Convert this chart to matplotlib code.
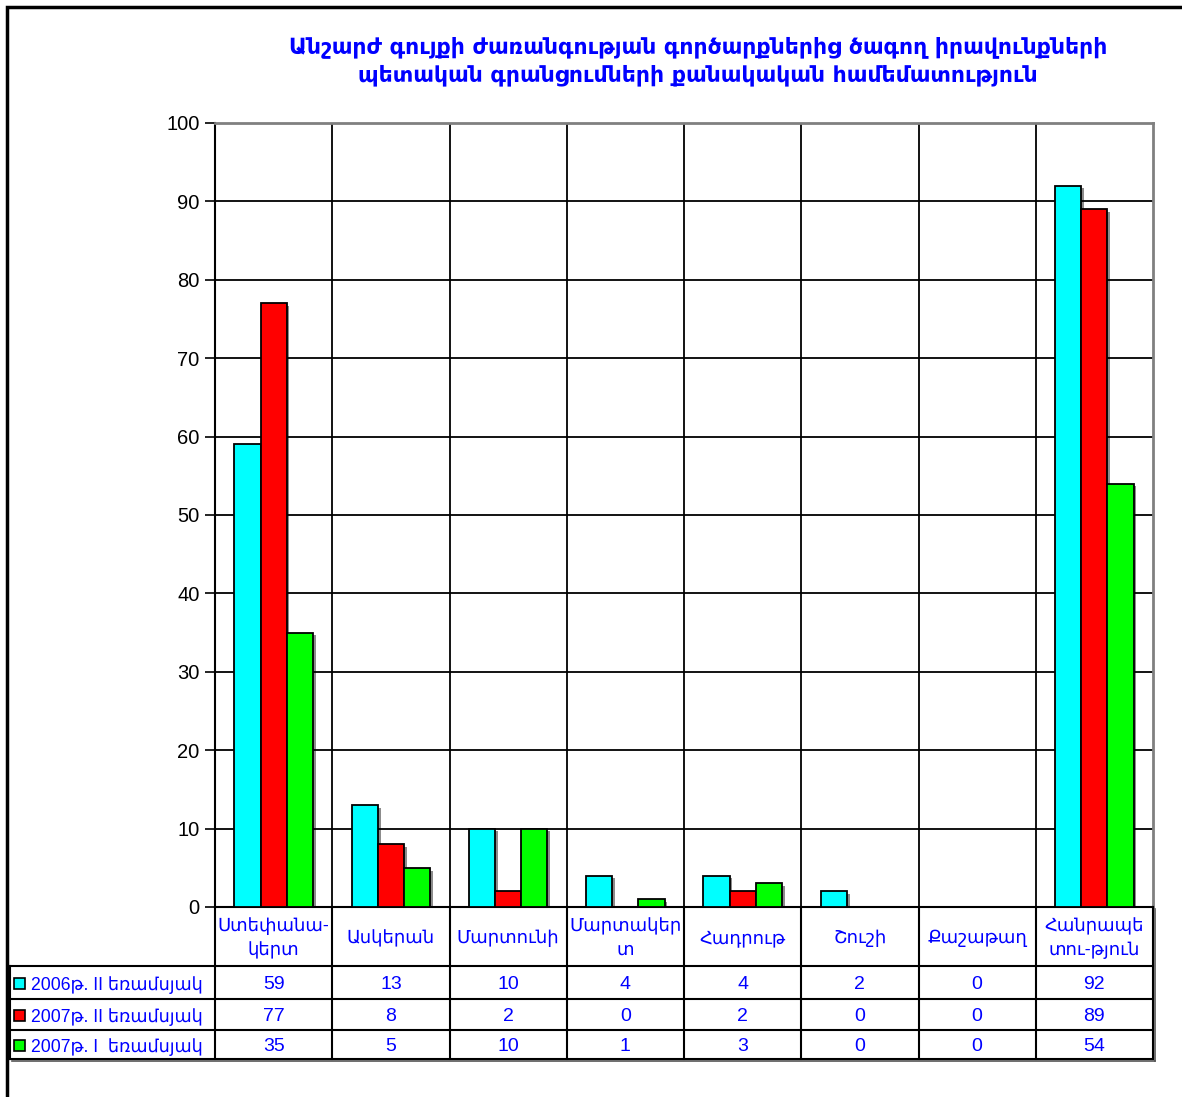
import numpy as np
import matplotlib
matplotlib.use("Agg")
import matplotlib.pyplot as plt
import matplotlib.patheffects as pe

plt.rcParams["font.family"] = ["Liberation Sans", "DejaVu Sans"]

TITLE = ("Անշարժ գույքի ժառանգության գործարքներից ծագող իրավունքների\n"
         "պետական գրանցումների քանակական համեմատություն")
categories = ["Ստեփանա-\nկերտ", "Ասկերան", "Մարտունի", "Մարտակեր\nտ",
              "Հադրութ", "Շուշի", "Քաշաթաղ", "Հանրապե\nտու-թյուն"]
series_names = ["2006թ. II եռամսյակ", "2007թ. II եռամսյակ", "2007թ. I  եռամսյակ"]
q2_2006 = [59, 13, 10, 4, 4, 2, 0, 92]
q2_2007 = [77, 8, 2, 0, 2, 0, 0, 89]
q1_2007 = [35, 5, 10, 1, 3, 0, 0, 54]
series = [q2_2006, q2_2007, q1_2007]
colors = ["#00ffff", "#ff0000", "#00ff00"]
yticks = list(range(0, 101, 10))

BLUE = "#0000ff"
W, H = 1182, 1097
# plot area in pixels
PL, PR, PT, PB = 215, 1153, 123, 907
# table rows in pixels
ROWS = [907, 966, 999, 1030, 1059]
TL = 10

fig = plt.figure(figsize=(W / 100, H / 100), dpi=100)
fig.patch.set_facecolor("white")

ax = fig.add_axes([PL / W, 1 - PB / H, (PR - PL) / W, (PB - PT) / H])
n = len(categories)
ax.set_xlim(0, n)
ax.set_ylim(0, 100)
ax.set_yticks(yticks)
ax.set_xticks([])
ax.tick_params(axis="y", length=7, width=1.2, labelsize=14.5, pad=4)
for y in yticks[1:-1]:
    ax.axhline(y, color="black", lw=1.3, zorder=1)
for i in range(1, n):
    ax.axvline(i, color="black", lw=1.3, zorder=1)
for side in ["top", "right"]:
    ax.spines[side].set_color("#808080")
    ax.spines[side].set_linewidth(2)
ax.spines["left"].set_linewidth(1.5)
ax.spines["bottom"].set_linewidth(1.5)

bw = 0.223
x = np.arange(n) + 0.5
shadow = [pe.SimplePatchShadow(offset=(2, -2), shadow_rgbFace="black", alpha=0.45), pe.Normal()]
for k, (vals, c) in enumerate(zip(series, colors)):
    bars = ax.bar(x + (k - 1) * bw, vals, bw, color=c, edgecolor="black",
                  lw=1.3, zorder=3)
    for b, v in zip(bars, vals):
        if v == 0:
            b.set_visible(False)
        else:
            b.set_path_effects(shadow)

# overlay in pixel coordinates for the frame, title and data table
ov = fig.add_axes([0, 0, 1, 1])
ov.set_xlim(0, W)
ov.set_ylim(H, 0)
ov.axis("off")
ov.patch.set_alpha(0)

ov.plot([7, 7, W], [H, 7, 7], color="black", lw=2.5, solid_joinstyle="miter")
ov.text(698, 61, TITLE, ha="center", va="center", color=BLUE, fontsize=15.8,
        fontweight="bold", linespacing=1.4, family=["DejaVu Sans"])

colw = (PR - PL) / n
edges = [PL + i * colw for i in range(n + 1)]
for i, e in enumerate(edges):
    ov.plot([e, e], [ROWS[0], ROWS[-1]], color="black", lw=1.5)
for r in ROWS[1:]:
    ov.plot([TL, PR], [r, r], color="black", lw=1.5)
ov.plot([TL, TL], [ROWS[1], ROWS[-1]], color="black", lw=1.5)
ov.plot([PR + 2, PR + 2], [ROWS[0] + 2, ROWS[-1] + 2], color="#555555", lw=1.2)
ov.plot([TL + 2, PR + 2], [ROWS[-1] + 2, ROWS[-1] + 2], color="#555555", lw=1.2)

for i, cat in enumerate(categories):
    cx = (edges[i] + edges[i + 1]) / 2
    ov.text(cx, (ROWS[0] + ROWS[1]) / 2 + 2, cat, ha="center", va="center",
            color=BLUE, fontsize=13, linespacing=1.5)

for k, (name, vals, c) in enumerate(zip(series_names, series, colors)):
    cy = (ROWS[k + 1] + ROWS[k + 2]) / 2
    ov.add_patch(plt.Rectangle((14, cy - 5), 11, 11, facecolor=c,
                               edgecolor="black", lw=1.2))
    ov.text(31, cy + 3, name, ha="left", va="center", color=BLUE, fontsize=12.7)
    for i, v in enumerate(vals):
        cx = (edges[i] + edges[i + 1]) / 2
        ov.text(cx, cy + 2, str(v), ha="center", va="center", color=BLUE,
                fontsize=14)

fig.savefig("out.png", dpi=100)
